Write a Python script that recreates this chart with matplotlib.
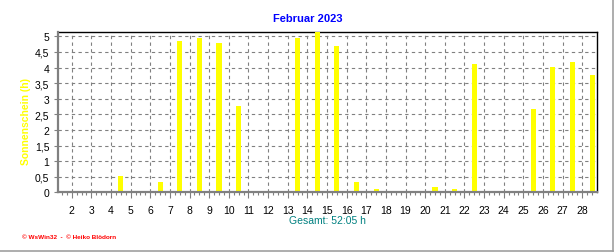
import matplotlib
matplotlib.use("Agg")
import matplotlib.pyplot as plt
from matplotlib.lines import Line2D
from matplotlib.ticker import MultipleLocator, FixedLocator

days = list(range(1, 29))
sunshine = [0.04, 0.04, 0.04, 0.53, 0.04, 0.34, 4.86, 4.94, 4.80, 2.77,
            0.04, 0.04, 4.95, 5.20, 4.69, 0.34, 0.12, 0.04, 0.04, 0.18,
            0.12, 4.11, 0.04, 0.04, 2.68, 4.03, 4.19, 3.77]
xtick_labels = [str(d) for d in range(2, 29)]
ytick_values = [0, 0.5, 1, 1.5, 2, 2.5, 3, 3.5, 4, 4.5, 5]
ytick_labels = ["0", "0,5", "1", "1,5", "2", "2,5", "3", "3,5", "4", "4,5", "5"]
title = "Februar 2023"
ylabel = "Sonnenschein (h)"
total_text = "Gesamt: 52:05 h"
footer = "\u00a9 WsWin32  -  \u00a9 Heiko Blödorn"

plt.rcParams['font.family'] = ['Liberation Sans', 'DejaVu Sans']

fig = plt.figure(figsize=(6.16, 2.53), dpi=100)
fig.patch.set_facecolor('white')
ax = fig.add_axes([57.6 / 616, 1 - 193.3 / 253, (596.8 - 57.6) / 616, (193.3 - 33.3) / 253])

xpos = [d + 0.5 for d in days]
ax.bar(xpos, sunshine, width=0.26, color='#FFFF00', zorder=3, linewidth=0)

ax.set_xlim(1.28, 28.74)
ax.set_ylim(0, 5.13)

ax.xaxis.set_major_locator(FixedLocator(list(range(2, 29))))
ax.set_xticklabels(xtick_labels)
ax.xaxis.set_minor_locator(MultipleLocator(0.25))
ax.set_yticks(ytick_values)
ax.set_yticklabels(ytick_labels)

ax.grid(True, which='major', color='#808080', linestyle=(0, (3, 3)), linewidth=0.8, zorder=1)

for s in ['top', 'right']:
    ax.spines[s].set_color('black')
    ax.spines[s].set_linewidth(1.0)
for s in ['left', 'bottom']:
    ax.spines[s].set_color('#808080')
    ax.spines[s].set_linewidth(1.6)
    ax.spines[s].set_zorder(4)

ax.tick_params(axis='x', which='major', length=4, width=0.8, color='#808080',
               labelsize=7.5, pad=5, labelcolor='black')
ax.tick_params(axis='x', which='minor', length=2, width=0.8, color='#808080')
ax.tick_params(axis='y', which='major', length=3, width=0.8, color='#808080',
               labelsize=7.5, pad=3, labelcolor='black')

fig.text(308 / 616, 1 - 19 / 253, title, color='#0000FF', fontsize=8,
         fontweight='bold', ha='center', va='center')
fig.text(26 / 616, 1 - 122 / 253, ylabel, color='#FFFF00', fontsize=7.5,
         fontweight='bold', rotation=90, ha='center', va='center')
fig.text(327 / 616, 1 - 221.5 / 253, total_text, color='#008080', fontsize=7.5,
         ha='center', va='center')
fig.text(22 / 616, 1 - 238 / 253, footer, color='#FF0000', fontsize=4.6,
         fontweight='bold', ha='left', va='center')

fig.add_artist(Line2D([612.5 / 616, 612.5 / 616], [1 - 251.5 / 253, 1.0],
                      transform=fig.transFigure, color='#A0A0A0', linewidth=1.2))
fig.add_artist(Line2D([0, 612.5 / 616], [1 - 251.5 / 253, 1 - 251.5 / 253],
                      transform=fig.transFigure, color='#A0A0A0', linewidth=1.2))

fig.savefig('out.png', dpi=100, facecolor='white')
